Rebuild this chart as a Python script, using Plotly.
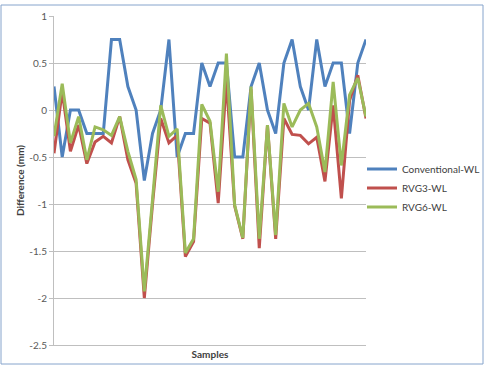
import plotly.graph_objects as go

samples = list(range(1, 40))
conventional = [0.25, -0.5, 0, 0, -0.25, -0.25, -0.25, 0.75, 0.75, 0.25,
                0, -0.75, -0.25, 0, 0.75, -0.5, -0.25, -0.25, 0.5, 0.25,
                0.5, 0.5, -0.5, -0.5, 0.25, 0.5, 0, -0.25, 0.5, 0.75,
                0.25, 0, 0.75, 0.25, 0.5, 0.5, -0.25, 0.5, 0.75]
rvg3 = [-0.46, 0.2, -0.44, -0.16, -0.57, -0.34, -0.28, -0.35, -0.07, -0.53,
        -0.78, -2.0, -1.0, -0.09, -0.35, -0.27, -1.56, -1.4, -0.09, -0.14,
        -0.99, 0.32, -1.02, -1.37, 0.22, -1.47, -0.16, -1.37, -0.09, -0.26,
        -0.27, -0.36, -0.29, -0.76, 0.05, -0.94, 0.1, 0.37, -0.09]
rvg6 = [-0.28, 0.28, -0.35, -0.07, -0.53, -0.18, -0.21, -0.27, -0.07, -0.44,
        -0.74, -1.93, -0.95, 0.05, -0.28, -0.2, -1.52, -1.37, 0.06, -0.12,
        -0.87, 0.6, -1.01, -1.36, 0.25, -1.37, -0.16, -1.33, 0.07, -0.18,
        0.0, 0.07, -0.18, -0.66, 0.3, -0.59, 0.16, 0.34, -0.07]

series_names = ["Conventional-WL", "RVG3-WL", "RVG6-WL"]
series_colors = ["#4F81BD", "#C0504D", "#9BBB59"]
y_tickvals = [1, 0.5, 0, -0.5, -1, -1.5, -2, -2.5]
y_ticktext = ["1", "0.5", "0", "-0.5", "-1", "-1.5", "-2", "-2.5"]

FONT = "Lato, Carlito, Calibri, sans-serif"

fig = go.Figure()
for name, vals, col in zip(series_names, [conventional, rvg3, rvg6], series_colors):
    fig.add_trace(go.Scatter(x=samples, y=vals, mode="lines", name=name,
                             line=dict(color=col, width=3)))

fig.update_layout(
    width=486, height=366,
    margin=dict(l=54, r=120, t=16, b=21, autoexpand=False),
    paper_bgcolor="white", plot_bgcolor="white",
    font=dict(family=FONT, size=10, color="#404040"),
    showlegend=True,
    legend=dict(x=(362 - 54) / 312, y=0.477, xanchor="left", yanchor="middle",
                font=dict(size=10, color="#404040"), bgcolor="rgba(0,0,0,0)",
                itemwidth=30),
    xaxis=dict(range=[1, 39], showgrid=False, zeroline=False, showticklabels=False,
               showline=True, linecolor="#BFBFBF", linewidth=1, ticks="",
               title=dict(text="<b>Samples</b>", font=dict(size=10, color="#404040"), standoff=5)),
    yaxis=dict(range=[-2.5, 1], tickvals=y_tickvals, ticktext=y_ticktext,
               showgrid=True, gridcolor="#BFBFBF", gridwidth=1, zeroline=False,
               showline=True, linecolor="#BFBFBF", linewidth=1,
               ticks="outside", ticklen=4, tickcolor="#BFBFBF",
               tickfont=dict(size=10, color="#595959"),
               title=dict(text="<b>Difference (mm)</b>", font=dict(size=10, color="#404040"), standoff=2)),
    shapes=[dict(type="rect", xref="paper", yref="paper",
                 x0=(1 - 54) / 312, x1=(483 - 54) / 312,
                 y0=(345 - 364) / 329, y1=(345 - 5) / 329,
                 line=dict(color="#86A4CC", width=1), fillcolor="rgba(0,0,0,0)", layer="below")],
)

fig.write_html("out.html")
